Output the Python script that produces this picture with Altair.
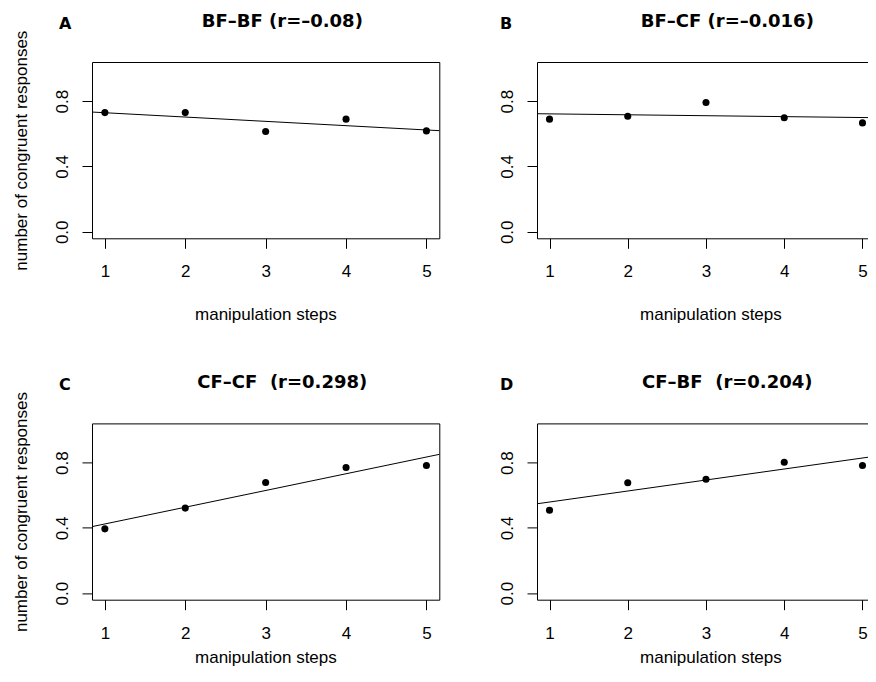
import altair as alt
import pandas as pd

steps = [1, 2, 3, 4, 5]
panel_letters = ["A", "B", "C", "D"]
panel_titles = ["BF\u2013BF (r=\u20130.08)", "BF\u2013CF (r=\u20130.016)",
                "CF\u2013CF \u00a0(r=0.298)", "CF\u2013BF \u00a0(r=0.204)"]
bf_bf = [0.730, 0.730, 0.614, 0.690, 0.618]
bf_cf = [0.690, 0.708, 0.792, 0.698, 0.667]
cf_cf = [0.394, 0.521, 0.678, 0.770, 0.782]
cf_bf = [0.508, 0.676, 0.698, 0.802, 0.782]
y_ticks = [0.0, 0.2, 0.4, 0.6, 0.8, 1.0]
x_title = "manipulation steps"
y_title = "number of congruent responses"

W_LEFT = 347.3
W_RIGHT = 338.0
H = 176.3
FONT = "Liberation Sans"
TFONT = "DejaVu Sans"


def panel(values, letter, title, with_ytitle, letter_x, xtitle_y, width):
    df = pd.DataFrame({"step": steps, "value": values})
    x = alt.X(
        "step:Q",
        scale=alt.Scale(domain=[0.84, 5.16], nice=False, zero=False),
        axis=alt.Axis(values=steps, format="d", title=x_title, grid=False, domain=False,
                      tickSize=10, tickColor="black", tickWidth=1,
                      labelFont=FONT, labelFontSize=17, labelColor="black",
                      labelBaseline="alphabetic", labelPadding=28.4,
                      titleFont=FONT, titleFontSize=17, titleFontWeight="normal",
                      titleColor="black", titleBaseline="alphabetic",
                      titleX=173.4, titleY=xtitle_y, titleAlign="center"),
    )
    yaxis_kw = dict(values=y_ticks, grid=False, domain=False,
                    labelExpr="round(datum.value*10) % 4 == 0 ? format(datum.value, '.1f') : ''",
                    tickSize=10, tickColor="black", tickWidth=1,
                    labelFont=FONT, labelFontSize=17, labelColor="black",
                    labelAngle=-90, labelAlign="center", labelBaseline="alphabetic",
                    labelPadding=14.2)
    if with_ytitle:
        yaxis_kw.update(title=y_title, titleFont=FONT, titleFontSize=17,
                        titleFontWeight="normal", titleColor="black",
                        titleAngle=270, titleBaseline="alphabetic", titleAlign="center",
                        titleX=-65.3, titleY=H / 2)
    else:
        yaxis_kw.update(title=None)
    y = alt.Y("value:Q", scale=alt.Scale(domain=[-0.04, 1.04], nice=False, zero=False),
              axis=alt.Axis(**yaxis_kw))

    base = alt.Chart(df)
    pts = base.mark_circle(size=50, color="black", opacity=1).encode(x=x, y=y)
    fit = base.transform_regression("step", "value", extent=[0.84, 5.16]).mark_line(
        color="black", strokeWidth=1).encode(x="step:Q", y="value:Q")
    ttl = alt.Chart(pd.DataFrame({"t": [title]})).mark_text(
        font=TFONT, fontSize=18, fontWeight="bold", color="black",
        align="center", baseline="alphabetic").encode(
        text="t:N", x=alt.value(190.3), y=alt.value(-35.3))
    let = alt.Chart(pd.DataFrame({"t": [letter]})).mark_text(
        font=TFONT, fontSize=16, fontWeight="bold", color="black",
        align="left", baseline="alphabetic").encode(
        text="t:N", x=alt.value(letter_x), y=alt.value(-33))
    return alt.layer(fit, pts, ttl, let).properties(width=width, height=H)


pA = panel(bf_bf, panel_letters[0], panel_titles[0], True, -33, 80.7, W_LEFT)
pB = panel(bf_cf, panel_letters[1], panel_titles[1], False, -37, 80.7, W_RIGHT)
pC = panel(cf_cf, panel_letters[2], panel_titles[2], True, -33, 63, W_LEFT)
pD = panel(cf_bf, panel_letters[3], panel_titles[3], False, -37, 63, W_RIGHT)

chart = alt.concat(pA, pB, pC, pD, columns=2,
                   spacing={"row": 184.4, "column": 97}, bounds="flush").properties(
    padding={"left": 84, "top": 54, "right": 776, "bottom": 606},
    autosize=alt.AutoSizeParams(type="none"),
    background="white",
).configure_view(stroke="black", strokeWidth=1)

chart.save("out.html", embed_options={"renderer": "svg", "actions": False})
